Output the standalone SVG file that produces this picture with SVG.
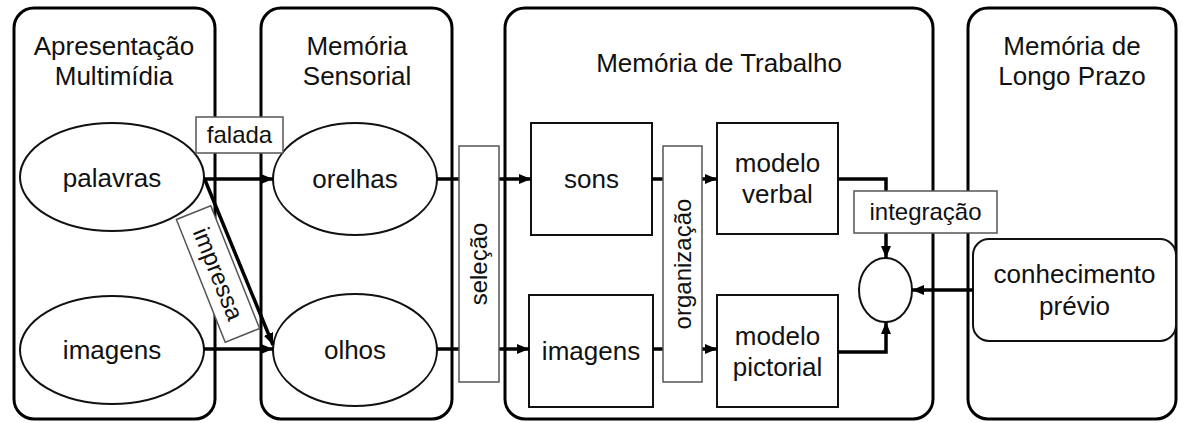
<svg xmlns="http://www.w3.org/2000/svg" width="1183" height="423" viewBox="0 0 1183 423">
<style>
text{font-family:"Liberation Sans",Arial,sans-serif;fill:#111;text-anchor:middle}
.t{font-size:26px}
.l{font-size:24px}
.cont{fill:#fff;stroke:#000;stroke-width:3}
.node{fill:#fff;stroke:#111;stroke-width:2}
.lab{fill:#fff;stroke:#555;stroke-width:1.5}
.con{fill:none;stroke:#000;stroke-width:3.5;marker-end:url(#ah)}
</style>
<defs>
<marker id="ah" markerUnits="userSpaceOnUse" markerWidth="14" markerHeight="12" refX="12" refY="5" orient="auto">
<path d="M0,0 L12,5 L0,10 z" fill="#000"/>
</marker>
</defs>
<g id="containers">
<g id="c-apresentacao"><rect class="cont" x="14" y="8" width="201" height="411" rx="20"/>
<text class="t" x="114" y="55">Apresentação</text><text class="t" x="114" y="85">Multimídia</text></g>
<g id="c-sensorial"><rect class="cont" x="261" y="8" width="191" height="411" rx="20"/>
<text class="t" x="357" y="55">Memória</text><text class="t" x="357" y="85">Sensorial</text></g>
<g id="c-trabalho"><rect class="cont" x="505" y="8" width="428" height="411" rx="20"/>
<text class="t" x="719" y="72">Memória de Trabalho</text></g>
<g id="c-longo"><rect class="cont" x="968" y="8" width="208" height="411" rx="20"/>
<text class="t" x="1072" y="55">Memória de</text><text class="t" x="1072" y="85">Longo Prazo</text></g>
</g>
<g id="n-palavras"><ellipse class="node" cx="112" cy="177" rx="92" ry="54"/><text class="t" x="112" y="187">palavras</text></g>
<g id="n-imagens1"><ellipse class="node" cx="112" cy="350" rx="92" ry="54"/><text class="t" x="112" y="359">imagens</text></g>
<g id="n-orelhas"><ellipse class="node" cx="355" cy="179" rx="82" ry="56"/><text class="t" x="355" y="188">orelhas</text></g>
<g id="n-olhos"><ellipse class="node" cx="355" cy="350" rx="82" ry="56"/><text class="t" x="355" y="359">olhos</text></g>
<g id="n-sons"><rect class="node" x="531" y="123" width="121" height="112"/><text class="t" x="591.5" y="188">sons</text></g>
<g id="n-imagens2"><rect class="node" x="529" y="295" width="124" height="112"/><text class="t" x="591" y="360">imagens</text></g>
<g id="n-verbal"><rect class="node" x="717" y="123" width="121" height="111"/><text class="t" x="777.5" y="172">modelo</text><text class="t" x="777.5" y="203">verbal</text></g>
<g id="n-pictorial"><rect class="node" x="717" y="295" width="121" height="112"/><text class="t" x="777.5" y="345">modelo</text><text class="t" x="777.5" y="376">pictorial</text></g>
<g id="n-integracao"><ellipse class="node" cx="885.5" cy="290" rx="26.5" ry="32"/></g>
<g id="n-conhecimento"><rect class="node" x="973" y="239" width="203" height="102" rx="16"/><text class="t" x="1074.5" y="283">conhecimento</text><text class="t" x="1074.5" y="315">prévio</text></g>
<g id="connectors">
<path class="con" d="M204,179 H273"/>
<path class="con" d="M205,180 L273,345"/>
<path class="con" d="M204,349 H273"/>
<path class="con" d="M437,179 H531"/>
<path class="con" d="M437,349 H529"/>
<path class="con" d="M652,179 H717"/>
<path class="con" d="M653,349 H717"/>
<path class="con" d="M838,179 H886 V258"/>
<path class="con" d="M838,352 H886 V322"/>
<path class="con" d="M973,290 H912"/>
</g>
<g id="labels">
<g id="lbl-falada"><rect class="lab" x="196" y="117" width="87" height="36"/><text class="l" x="239.5" y="143">falada</text></g>
<g id="lbl-impressa" transform="translate(218,274) rotate(68.3)"><rect class="lab" x="-66" y="-18.5" width="132" height="37"/><text class="l" x="0" y="8">impressa</text></g>
<g id="lbl-selecao" transform="translate(479,264) rotate(-90)"><rect class="lab" x="-118" y="-20" width="236" height="40"/><text class="l" x="0" y="8">seleção</text></g>
<g id="lbl-organizacao" transform="translate(682.5,264) rotate(-90)"><rect class="lab" x="-118" y="-19.5" width="236" height="39"/><text class="l" x="0" y="8">organização</text></g>
<g id="lbl-integracao"><rect class="lab" x="854" y="191" width="143" height="42"/><text class="l" x="925.5" y="220">integração</text></g>
</g>
</svg>
